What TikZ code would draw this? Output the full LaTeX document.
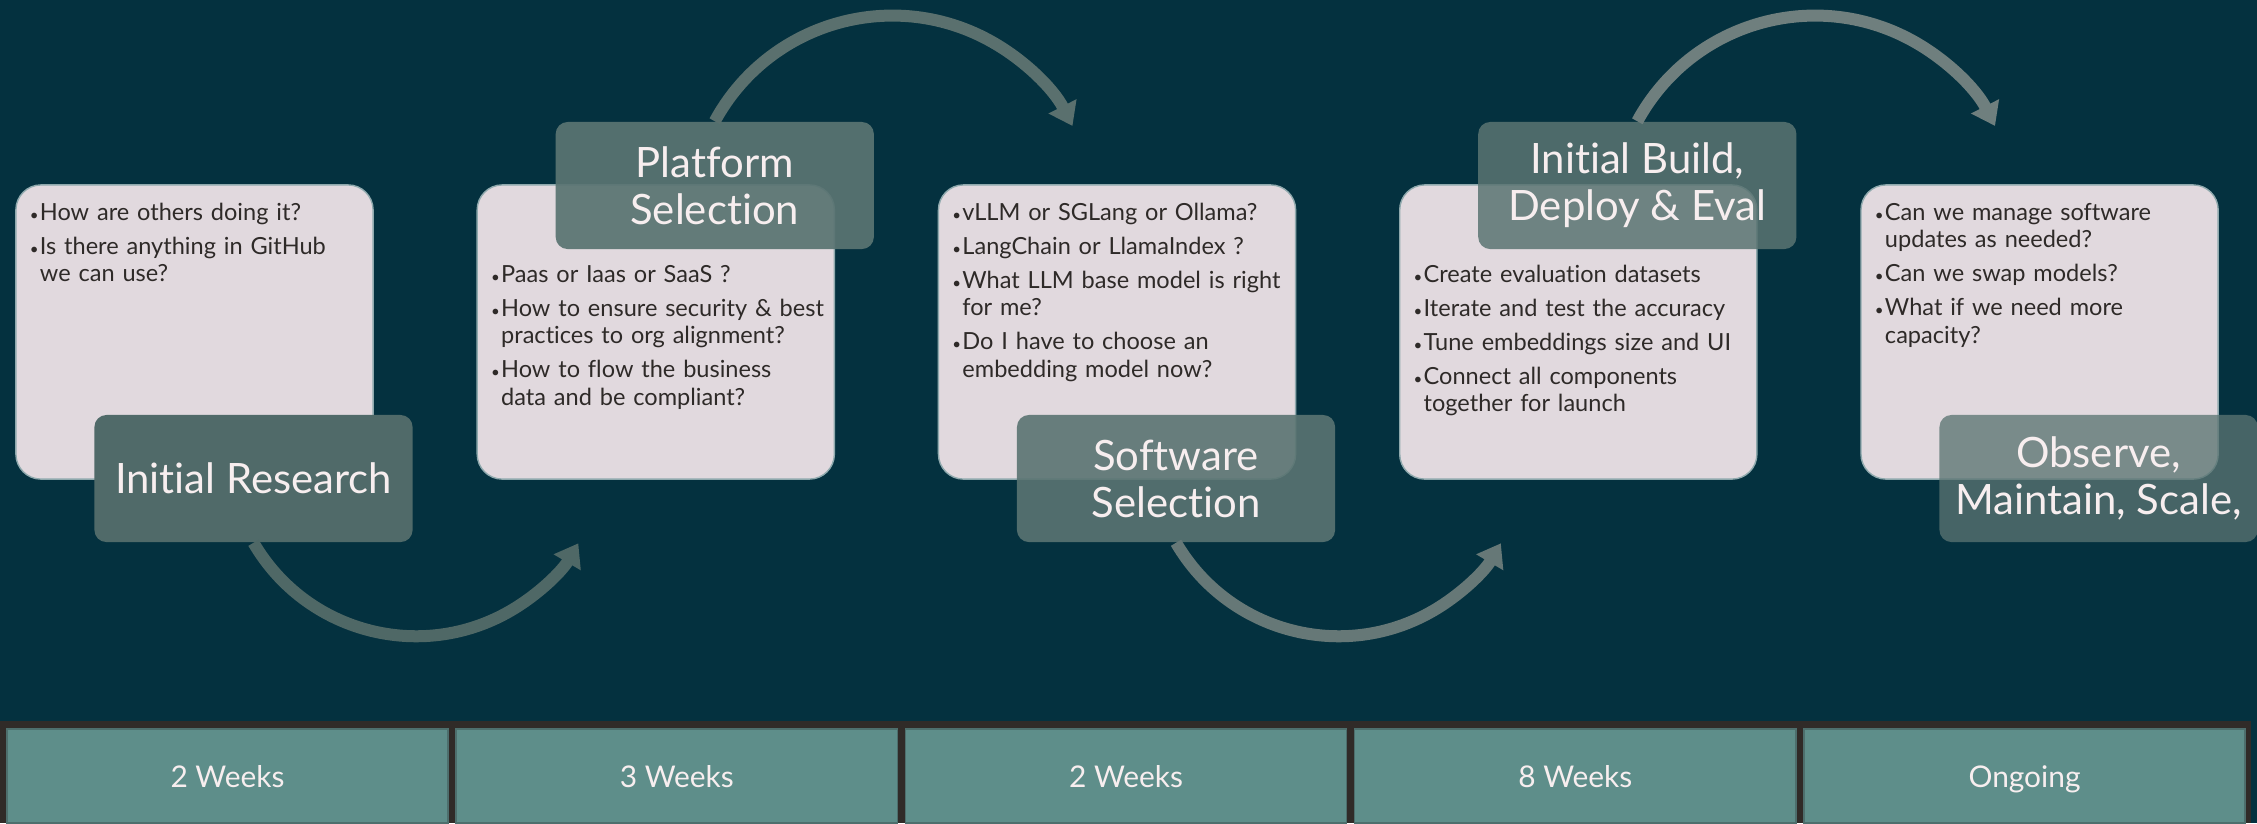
\documentclass[tikz,border=0pt]{standalone}
\usepackage{fontspec}
\setmainfont{Lato}[Ligatures={NoCommon}]
\usetikzlibrary{arrows.meta,positioning}

\definecolor{bgnavy}{HTML}{04313F}
\definecolor{cardfill}{HTML}{E1D9DE}
\definecolor{cardedge}{HTML}{8FA9AD}
\definecolor{textdark}{HTML}{2E2A28}
\definecolor{stagefill}{HTML}{5A7472}
\definecolor{stagefirst}{HTML}{506A69}
\definecolor{stagetext}{HTML}{F7EEEF}
\definecolor{hopA}{HTML}{4F6866}
\definecolor{hopB}{HTML}{5A706E}
\definecolor{hopC}{HTML}{667877}
\definecolor{hopD}{HTML}{6F7F7E}
\definecolor{framedark}{HTML}{302B28}
\definecolor{cellfill}{HTML}{5E8E8A}
\definecolor{celledge}{HTML}{4D6F6D}

\newcommand{\qfont}{\fontsize{6.7}{7.82}\selectfont}
\newcommand{\stagefont}{\fontsize{11.9}{13.4}\selectfont}
\newcommand{\cellfont}{\fontsize{8.5}{10}\selectfont}
\newcommand{\qdot}{{\fontsize{4.3}{4.3}\selectfont •}}
\newcommand{\qitem}[1]{\hangindent=0.1cm\hangafter=1\noindent\makebox[0.1cm][l]{\qdot}#1\par}

\begin{document}
\begin{tikzpicture}[x=0.01cm, y=0.01cm, node distance=4.61cm]

% Styles
\tikzstyle{card}  = [draw=cardedge, fill=cardfill, rounded corners=0.25cm, minimum width=3.57cm, minimum height=2.94cm]
\tikzstyle{qtext} = [anchor=north west, inner sep=0pt, text width=3.4cm, align=left, text=textdark, font=\qfont,
                     execute at begin node={\setlength{\parskip}{0.065cm}}]
\tikzstyle{stage} = [fill=stagefill, rounded corners=0.12cm, minimum width=3.18cm, minimum height=1.27cm,
                     align=center, text=stagetext, text opacity=1, font=\stagefont]
\tikzstyle{hop}   = [line width=0.12cm, -{Triangle[width=0.3cm, length=0.22cm]}]
\tikzstyle{cell}  = [draw=celledge, fill=cellfill, minimum width=4.41cm, minimum height=0.94cm,
                     text height=7.8pt, text depth=1pt, text=stagetext, font=\cellfont]

% Backdrop
\useasboundingbox (0,0) rectangle (2257,-823);
\fill [bgnavy] (0,0) rectangle (2257,-823);

% Question cards
\node [card] (card1) at (194.5,-332) {};
\node [card, right of=card1] (card2) {};
\node [card, right of=card2] (card3) {};
\node [card, right of=card3] (card4) {};
\node [card, right of=card4] (card5) {};

% Questions
\node [qtext] (q1) at ([shift={(14,-18)}]card1.north west)
  {\qitem{How are others doing it?}
   \qitem{Is there anything in GitHub\hfil\break we can use?}};
\node [qtext] (q2) at ([shift={(14,-80)}]card2.north west)
  {\qitem{Paas or Iaas or SaaS ?}
   \qitem{How to ensure security \& best\hfil\break practices to org alignment?}
   \qitem{How to flow the business\hfil\break data and be compliant?}};
\node [qtext] (q3) at ([shift={(14,-18)}]card3.north west)
  {\qitem{vLLM or SGLang or Ollama?}
   \qitem{LangChain or LlamaIndex ?}
   \qitem{What LLM base model is right\hfil\break for me?}
   \qitem{Do I have to choose an\hfil\break embedding model now?}};
\node [qtext] (q4) at ([shift={(14,-80)}]card4.north west)
  {\qitem{Create evaluation datasets}
   \qitem{Iterate and test the accuracy}
   \qitem{Tune embeddings size and UI}
   \qitem{Connect all components\hfil\break together for launch}};
\node [qtext] (q5) at ([shift={(14,-18)}]card5.north west)
  {\qitem{Can we manage software\hfil\break updates as needed?}
   \qitem{Can we swap models?}
   \qitem{What if we need more\hfil\break capacity?}};

% Stage labels
\node [stage, fill=stagefirst] (lab1) at ([shift={(59,-146.5)}]card1.center) {Initial Research};
\node [stage, fill opacity=0.93] (lab2) at ([shift={(59,146.5)}]card2.center) {Platform\\Selection};
\node [stage, fill opacity=0.9] (lab3) at ([shift={(59,-146.5)}]card3.center) {Software\\Selection};
\node [stage, fill opacity=0.85] (lab4) at ([shift={(59,146.5)}]card4.center) {Initial Build,\\Deploy \& Eval};
\node [stage, fill opacity=0.77] (lab5) at ([shift={(59,-146.5)}]card5.center) {Observe,\\Maintain, Scale,};

% Hops
\draw [hop, hopA] (lab1.south) arc (210.2:329.6:1.88cm);
\draw [hop, hopB] (lab2.north) arc (151.5:27:2.02cm);
\draw [hop, hopC] (lab3.south) arc (210.2:329.6:1.88cm);
\draw [hop, hopD] (lab4.north) arc (151.5:27:2.02cm);

% Durations
\fill [framedark] (0,-721) rectangle (2251,-823);
\node [cell] (wk1) at (227.5,-776) {2 Weeks};
\node [cell, right of=wk1, node distance=4.49cm] (wk2) {3 Weeks};
\node [cell, right of=wk2, node distance=4.49cm] (wk3) {2 Weeks};
\node [cell, right of=wk3, node distance=4.49cm] (wk4) {8 Weeks};
\node [cell, right of=wk4, node distance=4.49cm] (wk5) {Ongoing};

\end{tikzpicture}
\end{document}
